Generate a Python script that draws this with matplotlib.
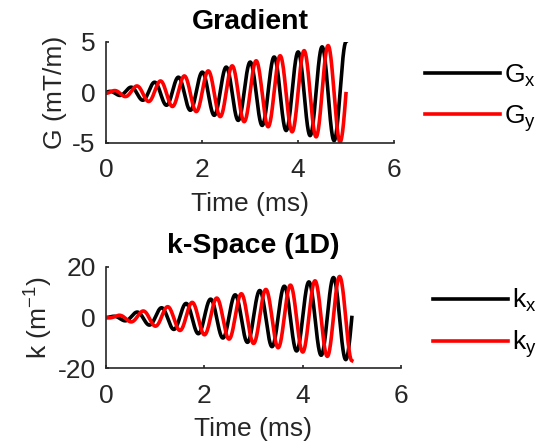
import numpy as np
import matplotlib
matplotlib.use("Agg")
import matplotlib.pyplot as plt

plt.rcParams['font.family'] = ['Liberation Sans', 'DejaVu Sans']
plt.rcParams['mathtext.fontset'] = 'custom'
plt.rcParams['mathtext.rm'] = 'Liberation Sans'
plt.rcParams['font.size'] = 19
plt.rcParams['axes.unicode_minus'] = False

# spiral readout parameters
t_end = 5.0          # ms
n_turns = 10         # revolutions over the readout
k_max = 17.0         # 1/m at the end of the readout
gamma = 42.58        # 1/m per (mT/m * ms)

x_ticks = [0, 2, 4, 6]
g_ticks = [-5, 0, 5]
k_ticks = [-20, 0, 20]

# k-space trajectory and the gradients that produce it
t = np.linspace(0, t_end, 4001)
theta = 2 * np.pi * n_turns * t / t_end
kx = k_max * (t / t_end) * np.sin(theta)
ky = -k_max * (t / t_end) * np.cos(theta)
gx = np.gradient(kx, t) / gamma
gy = np.gradient(ky, t) / gamma

ink = '#262626'
fig = plt.figure(figsize=(5.41, 4.46), dpi=100)
ax1 = fig.add_axes([0.1959, 0.6794, 0.5323, 0.2265])
ax2 = fig.add_axes([0.1959, 0.1742, 0.5453, 0.2278])


def style(ax):
    for s in ['top', 'right']:
        ax.spines[s].set_visible(False)
    for s in ['left', 'bottom']:
        ax.spines[s].set_color(ink)
        ax.spines[s].set_linewidth(1.2)
    ax.tick_params(direction='in', length=2.5, width=1.2, colors=ink,
                   labelcolor=ink)
    ax.tick_params(axis='x', pad=11)
    ax.tick_params(axis='y', pad=7.5)
    ax.set_xlim(0, 6)
    ax.set_xticks(x_ticks)


lw = 2.6
ax1.plot(t, gx, color='black', lw=lw, label=r'$\mathregular{G_x}$')
ax1.plot(t, gy, color='red', lw=lw, label=r'$\mathregular{G_y}$')
style(ax1)
ax1.set_ylim(-5, 5)
ax1.set_yticks(g_ticks)
ax1.set_xlabel('Time (ms)', color=ink, labelpad=7)
ax1.set_ylabel('G (mT/m)', color=ink)
ax1.set_title('Gradient', fontweight='bold', fontsize=20.5, pad=9)

ax2.plot(t, kx, color='black', lw=lw, label=r'$\mathregular{k_x}$')
ax2.plot(t, ky, color='red', lw=lw, label=r'$\mathregular{k_y}$')
style(ax2)
ax2.set_ylim(-20, 20)
ax2.set_yticks(k_ticks)
ax2.set_xlabel('Time (ms)', color=ink, labelpad=7)
ax2.set_ylabel(r'k (m$\mathregular{^{-1}}$)', color=ink, labelpad=2)
ax2.set_title('k-Space (1D)', fontweight='bold', fontsize=20.5, pad=10)

for ax, x0, y0 in [(ax1, 0.7856, 0.86), (ax2, 0.800, 0.357)]:
    ax.legend(loc='upper left', bbox_to_anchor=(x0, y0),
              bbox_transform=fig.transFigure, frameon=False,
              handlelength=2.84, handletextpad=0.15, labelspacing=0.55,
              borderpad=0, borderaxespad=0)

fig.savefig('out.png', dpi=100)
